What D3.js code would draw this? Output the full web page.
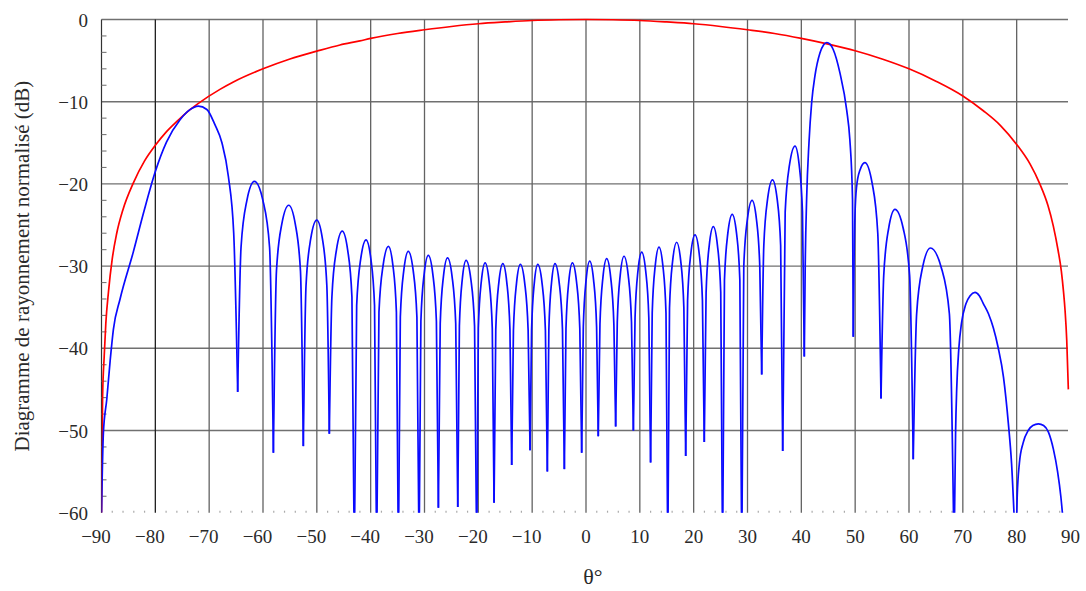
<!DOCTYPE html>
<html><head><meta charset="utf-8">
<script src="https://cdn.jsdelivr.net/npm/d3@7"></script>
<style>
body{margin:0;background:#fff}
svg{display:block}
</style>
</head><body>
<svg id="c" width="1086" height="591"></svg>
<script>
// ---- data ----
const xTicks = [-90,-80,-70,-60,-50,-40,-30,-20,-10,0,10,20,30,40,50,60,70,80,90];
const yTicks = [0,-10,-20,-30,-40,-50,-60];
const xLabel = "θ°";
const yLabel = "Diagramme de rayonnement normalisé (dB)";

// element pattern (red)
const elementPattern = [[-90,-60],[-89.8,-46],[-89.5,-41],[-89.2,-37],[-88.7,-33.1],[-88.0,-29.1],[-87.2,-26.1],[-86.0,-23.1],[-84.1,-19.9],[-82,-17.2],[-80.0,-15.3],[-78,-13.7],[-76.0,-12.4],[-74,-11.2],[-72,-10.2],[-68,-8.5],[-65.5,-7.6],[-60.0,-6.0],[-55,-4.8],[-50.0,-3.85],[-45.7,-3.1],[-42,-2.6],[-40,-2.3],[-35,-1.7],[-30,-1.25],[-25,-0.85],[-20.0,-0.52],[-15,-0.3],[-10,-0.12],[-5,-0.03],[0,0],[5,-0.03],[10.0,-0.12],[15,-0.3],[20,-0.52],[25,-0.85],[30.0,-1.25],[35,-1.7],[40,-2.3],[45,-3.0],[50.0,-3.8],[55,-4.8],[60.0,-6.0],[65,-7.5],[70,-9.3],[73.8,-11.1],[77,-12.9],[80.0,-15.2],[82.5,-17.6],[84.3,-20.0],[85.8,-22.6],[86.8,-25.1],[87.7,-28.1],[88.3,-30.6],[88.7,-33.1],[89.0,-35.5],[89.3,-39],[89.6,-45]];

// array pattern (blue), split in parts
const gratingLobe = [[-90,-60],[-89.65,-50.3],[-89.02,-46.2],[-88.39,-41.5],[-87.79,-37.7],[-86.55,-34.0],[-84.1,-28.3],[-82.1,-23.3],[-80.0,-18.5],[-77.91,-14.9],[-75.41,-12.2],[-73.62,-11.0],[-72.02,-10.55],[-70.43,-10.95],[-68.93,-12.8],[-67.63,-15.0],[-66.43,-19.1],[-65.44,-26.0],[-64.7,-45.3]];

const sideLobesLeft = [
[-64.08,-27.7],[-62.99,-22.0],[-61.6,-19.7],[-60.02,-22.0],[-58.78,-27.7],[-58.07,-52.7],
[-57.5,-30.6],[-56.51,-24.9],[-55.22,-22.6],[-54.0,-24.9],[-53.04,-30.6],[-52.51,-51.9],
[-52.01,-32.4],[-51.14,-26.7],[-50.02,-24.4],[-48.96,-26.7],[-48.14,-32.4],[-47.68,-50.4],
[-47.2,-33.75],[-46.36,-28.05],[-45.28,-25.75],[-44.27,-28.05],[-43.48,-33.75],[-43.04,-65],
[-42.6,-34.8],[-41.84,-29.1],[-40.86,-26.8],[-39.97,-29.1],[-39.28,-34.8],[-38.89,-65],
[-38.46,-35.6],[-37.69,-29.9],[-36.7,-27.6],[-35.87,-29.9],[-35.22,-35.6],[-34.85,-65],
[-34.49,-36.2],[-33.84,-30.5],[-33.01,-28.2],[-32.11,-30.5],[-31.41,-36.2],[-31.01,-65],
[-30.67,-36.7],[-30.07,-31.0],[-29.29,-28.7],[-28.45,-31.0],[-27.79,-36.7],[-27.42,-59.4],
[-27.08,-37.0],[-26.49,-31.3],[-25.72,-29.0],[-24.87,-31.3],[-24.2,-37.0],[-23.82,-59.3],
[-23.52,-37.3],[-22.98,-31.6],[-22.28,-29.3],[-21.39,-31.6],[-20.7,-37.3],[-20.3,-65],
[-20.0,-37.6],[-19.45,-31.9],[-18.74,-29.6],[-17.99,-31.9],[-17.41,-37.6],[-17.08,-58.8],
[-16.76,-37.7],[-16.19,-32.0],[-15.45,-29.7],[-14.71,-32.0],[-14.13,-37.7],[-13.8,-54.2],
[-13.48,-37.8],[-12.91,-32.1],[-12.19,-29.8],[-11.38,-32.1],[-10.75,-37.8],[-10.39,-52.4],
[-10.11,-37.8],[-9.61,-32.1],[-8.96,-29.8],[-8.16,-32.1],[-7.54,-37.8],[-7.18,-55.0],
[-6.9,-37.7],[-6.4,-32.0],[-5.76,-29.7],[-4.98,-32.0],[-4.37,-37.7],[-4.02,-54.7],
[-3.72,-37.6],[-3.2,-31.9],[-2.53,-29.6],[-1.76,-31.9],[-1.15,-37.6],[-0.8,-52.7],
[-0.5,-37.4],[0.02,-31.7],[0.69,-29.4],[1.41,-31.7],[1.97,-37.4],[2.28,-50.7],
[2.59,-37.1],[3.14,-31.4],[3.84,-29.1],[4.59,-31.4],[5.18,-37.1],[5.51,-49.5],
[5.81,-36.8],[6.36,-31.1],[7.06,-28.8],[7.84,-31.1],[8.45,-36.8],[8.8,-50.0],
[9.11,-36.3],[9.65,-30.6],[10.35,-28.3],[11.09,-30.6],[11.67,-36.3],[12.0,-53.9],
[12.3,-35.7],[12.85,-30.0],[13.56,-27.7],[14.29,-30.0],[14.86,-35.7],[15.19,-65],
[15.51,-35.1],[16.09,-29.4],[16.84,-27.1],[17.6,-29.4],[18.18,-35.1],[18.52,-53.1],
[18.87,-34.2],[19.47,-28.5],[20.25,-26.2],[21.03,-28.5],[21.63,-34.2],[21.97,-51.4],
[22.31,-33.2],[22.89,-27.5],[23.65,-25.2],[24.42,-27.5],[25.03,-33.2],[25.37,-65],
[25.72,-31.7],[26.35,-26.0],[27.16,-23.7],[27.96,-26.0],[28.58,-31.7],[28.93,-65],
[29.31,-30.0],[29.98,-24.3],[30.85,-22.0],[31.66,-24.3],[32.28,-30.0],[32.64,-43.2],
[33.03,-27.5],[33.74,-21.8],[34.64,-19.5],[35.5,-21.8],[36.16,-27.5],[36.54,-52.5],
[37.0,-23.4],[37.8,-17.7],[38.83,-15.4],[39.6,-17.7],[40.21,-23.4],[40.55,-41.0]
];

const mainLobe = [[40.72,-30],[40.98,-21.9],[41.42,-15],[41.92,-10.1],[42.52,-6.9],[43.47,-4.05],[44.12,-3.1],[44.72,-2.8],[45.32,-3.0],[45.92,-3.65],[47.17,-6.5],[48.42,-11.0],[49.01,-14.6],[49.51,-21.9],[49.65,-38.6]];

const sideLobesRight = [
[49.78,-30],[49.96,-23.9],[50.27,-20.3],[50.9,-18.3],[51.8,-17.4],[53.15,-19.9],[54.2,-26],[54.8,-46.1],
[55.31,-31.1],[56.22,-25.4],[57.39,-23.1],[58.92,-25.4],[60.11,-31.1],[60.79,-53.5],
[61.42,-35.8],[62.54,-30.1],[63.98,-27.8],[65.96,-30.1],[67.5,-35.8],[68.37,-65],
[68.66,-50],[68.86,-45],[69.26,-40],[69.76,-36.9],[70.56,-34.6],[71.36,-33.6],[72.26,-33.2],[73.06,-33.6],[73.76,-34.5],[74.76,-35.8],[75.66,-37.5],[76.56,-39.9],[77.55,-43.5],[78.45,-49.1],[79.05,-54],[79.82,-65],
[80.1,-58],[80.5,-54],[81.2,-51.5],[82.14,-50.0],[83.0,-49.4],[84.04,-49.2],[85.0,-49.4],[85.9,-50.2],[86.83,-52.3],[87.6,-55],[88.2,-58],[88.63,-61]
];

// ---- chart ----
const FONT = "'Liberation Serif', Tinos, 'Times New Roman', Times, 'DejaVu Serif', serif";
const svg = d3.select("#c").attr("font-family", FONT).style("font-family", FONT);
const x = d3.scaleLinear().domain([-90, 90]).range([101.5, 1070.5]);
const y = d3.scaleLinear().domain([-60, 0]).range([512.7, 19.5]);
const plotRight = 1068;

svg.append("defs").append("clipPath").attr("id","clip")
  .append("rect").attr("x", x(-90)).attr("y", y(0) - 5)
  .attr("width", x(90) - x(-90)).attr("height", y(-60) - y(0) + 5);

// horizontal grid
svg.append("g").selectAll("line").data(yTicks).join("line")
  .attr("x1", x(-90)).attr("x2", plotRight)
  .attr("y1", d => y(d)).attr("y2", d => y(d))
  .attr("stroke", d => d === -60 ? "none" : "#707070").attr("stroke-width", 1.4);

// vertical grid
svg.append("g").selectAll("line").data(xTicks.filter(d => d > -90 && d < 90)).join("line")
  .attr("x1", d => x(d)).attr("x2", d => x(d))
  .attr("y1", y(0)).attr("y2", y(-60))
  .attr("stroke", d => d === -80 ? "#1e1e1e" : "#626262").attr("stroke-width", 1.3);

// left axis line
svg.append("line").attr("x1", x(-90)).attr("x2", x(-90)).attr("y1", y(0)).attr("y2", y(-60))
  .attr("stroke", "#333").attr("stroke-width", 1.2);

// minor y ticks (every 2 dB)
svg.append("g").selectAll("line").data(d3.range(-58, 0, 2).filter(d => d % 10 !== 0)).join("line")
  .attr("x1", x(-90)).attr("x2", x(-90) + 5)
  .attr("y1", d => y(d)).attr("y2", d => y(d))
  .attr("stroke", "#777").attr("stroke-width", 1.1);

// minor x ticks (every 2 deg)
svg.append("g").selectAll("line").data(d3.range(-88, 90, 2).filter(d => d % 10 !== 0)).join("line")
  .attr("x1", d => x(d)).attr("x2", d => x(d))
  .attr("y1", y(-60)).attr("y2", y(-60) - 2)
  .attr("stroke", "#aaa").attr("stroke-width", 1.2);

const txt = sel => sel.attr("font-family", FONT).style("font-family", FONT).attr("fill", "#2a2a2a");

// x tick labels
svg.append("g").selectAll("text").data(xTicks).join("text")
  .call(txt)
  .attr("x", d => x(d) + (d < 0 ? -5.5 : 0)).attr("y", 543)
  .attr("text-anchor", "middle").attr("font-size", 19)
  .text(d => d < 0 ? "\u2212" + Math.abs(d) : String(d));

// y tick labels
svg.append("g").selectAll("text").data(yTicks).join("text")
  .call(txt)
  .attr("x", 88).attr("y", d => y(d) + 7)
  .attr("text-anchor", "end").attr("font-size", 19)
  .text(d => d < 0 ? "\u2212" + Math.abs(d) : String(d));

// axis titles
svg.append("text").call(txt).attr("x", 593).attr("y", 584).attr("text-anchor", "middle")
  .attr("font-size", 22).text(xLabel);
svg.append("text").call(txt).attr("transform", "translate(29," + ((y(0) + y(-60)) / 2) + ") rotate(-90)")
  .attr("text-anchor", "middle").attr("font-size", 21).text(yLabel);

const plot = svg.append("g").attr("clip-path", "url(#clip)");
const line = d3.line().x(d => x(d[0])).y(d => y(d[1])).curve(d3.curveMonotoneX);

// red element pattern
plot.append("path").datum(elementPattern).attr("d", line)
  .attr("fill", "none").attr("stroke", "#ff0000").attr("stroke-width", 1.7);

// blue array pattern: split at nulls so nulls stay sharp
const blue = gratingLobe.concat(sideLobesLeft, mainLobe, sideLobesRight);
const segs = []; let cur = [blue[0]];
for (let i = 1; i < blue.length; i++) {
  cur.push(blue[i]);
  if (i < blue.length - 1 && blue[i][1] < blue[i-1][1] && blue[i][1] < blue[i+1][1]) {
    segs.push(cur); cur = [blue[i]];
  }
}
segs.push(cur);
plot.append("g").selectAll("path").data(segs).join("path")
  .attr("d", line).attr("fill", "none").attr("stroke", "#0a0aff")
  .attr("stroke-width", 1.7).attr("stroke-linejoin", "round");
</script>
</body></html>
